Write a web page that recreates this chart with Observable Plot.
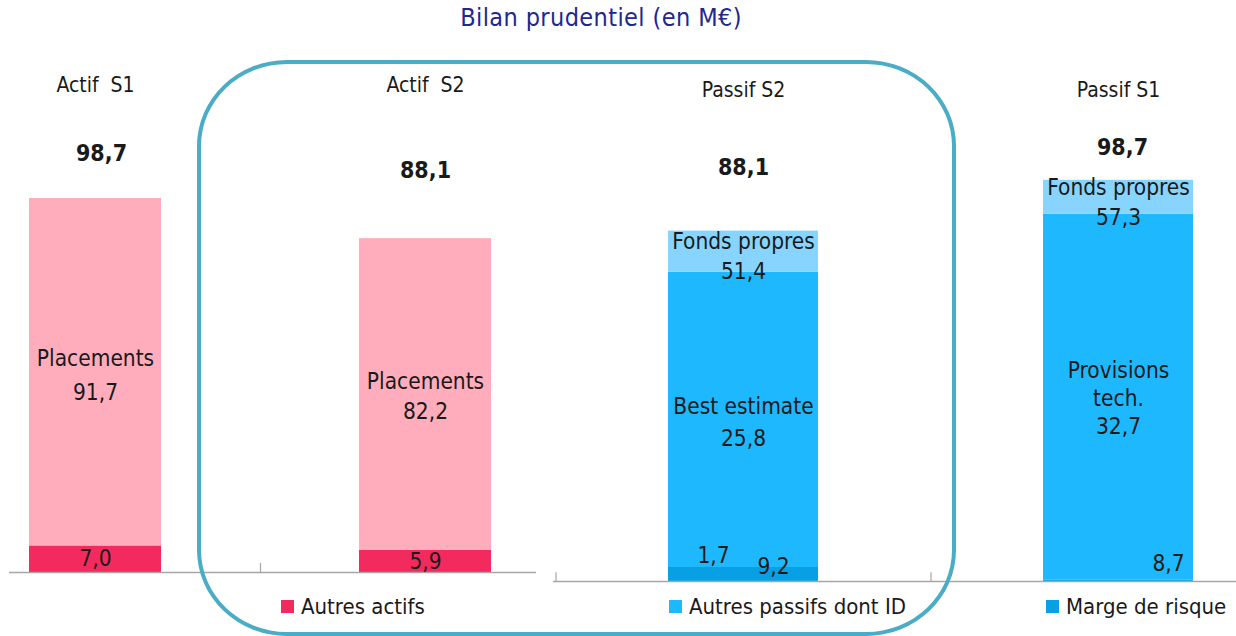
<!DOCTYPE html>
<html>
<head>
<meta charset="utf-8">
<script src="https://cdn.jsdelivr.net/npm/d3@7"></script>
<script src="https://cdn.jsdelivr.net/npm/@observablehq/plot@0.6"></script>
<style>
  html, body { margin: 0; padding: 0; background: #ffffff; }
  #root { position: relative; width: 1236px; height: 636px; overflow: hidden;
          font-family: "DejaVu Sans Condensed", "DejaVu Sans", sans-serif; }
  #title { position: absolute; left: 0; top: 4px; width: 1202px; text-align: center;
           font-size: 25px; line-height: 28px; letter-spacing: 0.4px; color: #22278f; }
  #left { position: absolute; left: 9px; top: 0; }
  #right { position: absolute; left: 553px; top: 0; }
  #frame { position: absolute; left: 197px; top: 60px; width: 759px; height: 576px;
           box-sizing: border-box; border: 4px solid #4bacc6; border-radius: 90px / 86px;
           pointer-events: none; }
  .lg { position: absolute; top: 593px; height: 26px; display: flex; align-items: center;
        font-size: 22px; color: #1a1a1a; white-space: nowrap; }
  .lg span.sw { display: inline-block; width: 13px; height: 13px; margin-right: 7px; }
</style>
</head>
<body>
<div id="root">
  <div id="title"></div>
  <div id="left"></div>
  <div id="right"></div>
  <div id="frame"></div>
</div>
<script>
// ================= DATA =================
const titleText = "Bilan prudentiel (en M€)";

// Actif (left panel)
const actifCats = ["Actif S1", "Actif S2"];
const actifHeaders = ["Actif\u00a0 S1", "Actif\u00a0 S2"];
const placements = [91.7, 82.2];
const autresActifs = [7.0, 5.9];

// Passif (right panel)
const passifCats = ["Passif S2", "Passif S1"];
const passifHeaders = ["Passif S2", "Passif S1"];
// segment lengths as drawn on the bars
const fondsPropresBar = [10.3, 8.5];
const autresPassifsBar = [73.8, 91.5];
const margeRisqueBar = [3.5, 0.3];
// values printed on the bars
const fondsPropresVal = [51.4, 57.3];
const provisionsName = ["Best estimate", "Provisions\ntech."];
const provisionsVal = [25.8, 32.7];
const autresPassifsVal = [9.2, 8.7];
const margeRisqueVal = [1.7, 0];

const seriesNames = ["Placements", "Autres actifs", "Fonds propres", "Autres passifs dont ID", "Marge de risque"];
const seriesColors = ["#ffadbc", "#f32a5e", "#87d4ff", "#1eb8ff", "#08a0e4"];
const legendItems = ["Autres actifs", "Autres passifs dont ID", "Marge de risque"];

// ================= LAYOUT =================
const FONT = '"DejaVu Sans Condensed", "DejaVu Sans", sans-serif';
const TXT = "#1a1a1a";
const AXIS = "#a6a6a6";
const LBL = 22.5;
const fmt = v => v.toFixed(1).replace(".", ",");
const colorScale = {domain: seriesNames, range: seriesColors};

document.getElementById("title").textContent = titleText;

// ---------- left panel ----------
const actifRows = actifCats.map((cat, i) => ({
  cat, header: actifHeaders[i], placements: placements[i], autres: autresActifs[i],
  total: placements[i] + autresActifs[i]
}));
const actifSegs = actifRows.flatMap(d => [
  {cat: d.cat, serie: "Autres actifs", y1: 0, y2: d.autres},
  {cat: d.cat, serie: "Placements", y1: d.autres, y2: d.total}
]);

const leftPlot = Plot.plot({
  width: 527, height: 636, margin: 0,
  style: {background: "transparent", fontFamily: FONT, overflow: "visible"},
  x: {type: "band", domain: actifCats, range: [20, 482], paddingInner: 0.6, paddingOuter: 0, axis: null},
  y: {domain: [0, 100], range: [572, 572 - 378.9], axis: null},
  color: colorScale,
  marks: [
    Plot.barY(actifSegs, {x: "cat", y1: "y1", y2: "y2", fill: "serie"}),
    Plot.ruleY([0], {stroke: AXIS, strokeWidth: 1.5}),
    Plot.ruleX(actifCats.slice(0, 1), {x: d => d, y1: 0, y2: 2.4, dx: 165, stroke: AXIS, strokeWidth: 1.2}),
    Plot.text(actifRows, {x: "cat", text: "header", frameAnchor: "top", lineAnchor: "middle", dy: 85, fontSize: 21, fill: TXT}),
    Plot.text(actifRows.slice(0, 1), {x: "cat", y: "total", text: d => fmt(d.total), dy: -45, dx: 6, fontSize: 23, fontWeight: "bold", fill: TXT}),
    Plot.text(actifRows.slice(1), {x: "cat", y: "total", text: d => fmt(d.total), dy: -68, fontSize: 23, fontWeight: "bold", fill: TXT}),
    Plot.text(actifRows.slice(0, 1), {x: "cat", y: d => d.autres + d.placements / 2, text: d => "Placements\n" + fmt(d.placements), lineHeight: 1.5, fontSize: LBL, fill: TXT}),
    Plot.text(actifRows.slice(1), {x: "cat", y: d => d.autres + d.placements / 2, text: d => "Placements\n" + fmt(d.placements), lineHeight: 1.35, fontSize: LBL, fill: TXT}),
    Plot.text(actifRows, {x: "cat", y: d => d.autres / 2, text: d => fmt(d.autres), fontSize: LBL, fill: TXT})
  ]
});
document.getElementById("left").appendChild(leftPlot);

// ---------- right panel ----------
const passifRows = passifCats.map((cat, i) => ({
  cat, header: passifHeaders[i],
  marge: margeRisqueBar[i], autres: autresPassifsBar[i], fonds: fondsPropresBar[i],
  top: margeRisqueBar[i] + autresPassifsBar[i] + fondsPropresBar[i],
  fondsVal: fondsPropresVal[i], provName: provisionsName[i], provVal: provisionsVal[i],
  autresVal: autresPassifsVal[i], margeVal: margeRisqueVal[i],
  total: fondsPropresVal[i] + provisionsVal[i] + autresPassifsVal[i] + margeRisqueVal[i]
}));
const passifSegs = passifRows.flatMap(d => [
  {cat: d.cat, serie: "Marge de risque", y1: 0, y2: d.marge},
  {cat: d.cat, serie: "Autres passifs dont ID", y1: d.marge, y2: d.marge + d.autres},
  {cat: d.cat, serie: "Fonds propres", y1: d.marge + d.autres, y2: d.top}
]);

const rightPlot = Plot.plot({
  width: 683, height: 636, margin: 0,
  style: {background: "transparent", fontFamily: FONT, overflow: "visible"},
  x: {type: "band", domain: passifCats, range: [115, 640], paddingInner: 0.6, paddingOuter: 0, axis: null},
  y: {domain: [0, 100], range: [581, 181], axis: null},
  color: colorScale,
  marks: [
    Plot.barY(passifSegs, {x: "cat", y1: "y1", y2: "y2", fill: "serie"}),
    Plot.ruleY([0], {stroke: AXIS, strokeWidth: 1.5}),
    Plot.ruleX(passifCats.slice(0, 1), {x: d => d, y1: 0, y2: 2.2, dx: -187.5, stroke: AXIS, strokeWidth: 1.2}),
    Plot.ruleX(passifCats.slice(0, 1), {x: d => d, y1: 0, y2: 2.2, dx: 187.5, stroke: AXIS, strokeWidth: 1.2}),
    Plot.text(passifRows, {x: "cat", text: "header", frameAnchor: "top", lineAnchor: "middle", dy: 90, fontSize: 21, fill: TXT}),
    Plot.text(passifRows.slice(0, 1), {x: "cat", y: "top", text: d => fmt(d.total), dy: -63, fontSize: 23, fontWeight: "bold", fill: TXT}),
    Plot.text(passifRows.slice(1), {x: "cat", y: "top", text: d => fmt(d.total), dy: -33, dx: 4, fontSize: 23, fontWeight: "bold", fill: TXT}),
    Plot.text(passifRows, {x: "cat", y: d => d.marge + d.autres + d.fonds / 2, text: d => "Fonds propres\n" + fmt(d.fondsVal), dy: 3, lineHeight: 1.33, fontSize: LBL, fill: TXT}),
    Plot.text(passifRows.slice(0, 1), {x: "cat", y: d => d.marge + d.autres / 2, text: d => d.provName + "\n" + fmt(d.provVal), lineHeight: 1.42, fontSize: LBL, fill: TXT}),
    Plot.text(passifRows.slice(1), {x: "cat", y: d => d.marge + d.autres / 2, text: d => d.provName + "\n" + fmt(d.provVal), lineHeight: 1.25, fontSize: LBL, fill: TXT}),
    Plot.text(passifRows.filter(d => d.margeVal), {x: "cat", y: 0, text: d => fmt(d.margeVal), dx: -30, dy: -26, fontSize: LBL, fill: TXT}),
    Plot.text(passifRows.slice(0, 1), {x: "cat", y: 0, text: d => fmt(d.autresVal), dx: 30, dy: -15, fontSize: LBL, fill: TXT}),
    Plot.text(passifRows.slice(1), {x: "cat", y: 0, text: d => fmt(d.autresVal), dx: 50, dy: -18, fontSize: LBL, fill: TXT})
  ]
});
document.getElementById("right").appendChild(rightPlot);

// ---------- legend ----------
const legendLeft = [281, 669, 1046];
const root = document.getElementById("root");
legendItems.forEach((name, i) => {
  const div = document.createElement("div");
  div.className = "lg";
  div.style.left = legendLeft[i] + "px";
  const sw = document.createElement("span");
  sw.className = "sw";
  sw.style.background = seriesColors[seriesNames.indexOf(name)];
  div.appendChild(sw);
  div.appendChild(document.createTextNode(name));
  root.appendChild(div);
});
</script>
</body>
</html>
